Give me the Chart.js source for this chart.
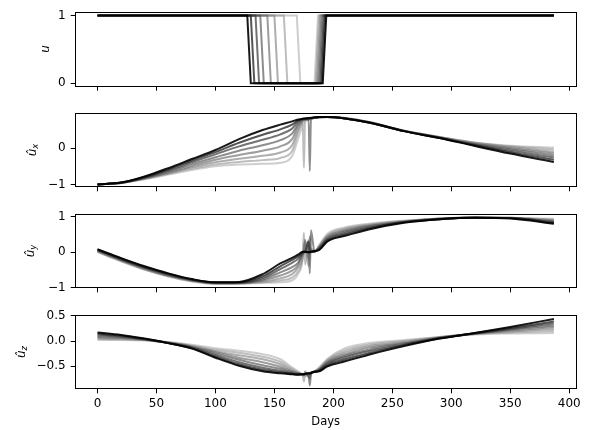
<!DOCTYPE html>
<html>
<head>
<meta charset="utf-8">
<script src="https://cdn.jsdelivr.net/npm/chart.js@4/dist/chart.umd.min.js"></script>
<style>
  body { margin: 0; background: #fff; }
  #figure { position: relative; width: 592px; height: 430px; background: #fff; overflow: hidden; }
  #figure canvas { position: absolute; left: 0; }
  .ylab {
    position: absolute;
    font-family: "DejaVu Sans", sans-serif;
    font-size: 12px;
    font-style: italic;
    line-height: 1;
    white-space: nowrap;
    color: #000;
    transform: translate(-50%, -50%) rotate(-90deg);
  }
  .ylab sub { font-size: 8.5px; vertical-align: -2px; }
</style>
</head>
<body>
<div id="figure">
  <canvas id="chart-u" width="592" height="100" style="top:0px"></canvas>
  <canvas id="chart-ux" width="592" height="100" style="top:101px"></canvas>
  <canvas id="chart-uy" width="592" height="100" style="top:202px"></canvas>
  <canvas id="chart-uz" width="592" height="127" style="top:303px"></canvas>
  <div class="ylab" style="left:45px; top:49px">u</div>
  <div class="ylab" style="left:33px; top:150px">û<sub>x</sub></div>
  <div class="ylab" style="left:31px; top:251px">û<sub>y</sub></div>
  <div class="ylab" style="left:22px; top:352px">û<sub>z</sub></div>
</div>
<script>
// Axe des jours (commun aux 4 graphes)
const days = [0, 20, 40, 60, 80, 100, 120, 140, 155, 165, 170, 174, 175, 176, 179, 180, 181, 184, 188, 195, 210, 230, 260, 290, 320, 350, 387];
const xTicks = [0, 50, 100, 150, 200, 250, 300, 350, 400];

// u : jours de coupure / reprise de chaque courbe (du plus clair au plus foncé)
const uFallStart = [169, 158, 150, 144, 138, 134, 130, 127];
const uFallEnd = [172, 161, 153, 147, 141, 137, 133, 130];
const uRiseStart = [184, 185, 186, 187, 188, 189, 190, 191];
const uRiseEnd = [187, 188, 189, 190, 191, 192, 193, 194];
const uTicks = [0, 1];
const uTickLabels = ["0", "1"];

// û_x
const ux0 = [-1, -0.96, -0.86, -0.73, -0.60, -0.50, -0.45, -0.43, -0.40, -0.22, 0.25, 0.62, 0.70, 0.74, 0.78, 0.79, 0.80, 0.83, 0.85, 0.86, 0.83, 0.72, 0.48, 0.31, 0.16, 0.07, 0.02];
const ux1 = [-1, -0.96, -0.85, -0.71, -0.57, -0.45, -0.38, -0.33, -0.27, -0.08, 0.40, 0.70, -0.54, 0.76, 0.79, 0.80, 0.81, 0.83, 0.85, 0.86, 0.83, 0.72, 0.48, 0.31, 0.15, 0.05, -0.04];
const ux2 = [-1, -0.96, -0.84, -0.69, -0.53, -0.39, -0.29, -0.21, -0.12, 0.08, 0.50, 0.74, 0.77, 0.78, 0.80, 0.81, 0.82, 0.84, 0.85, 0.86, 0.83, 0.72, 0.48, 0.30, 0.14, 0.03, -0.10];
const ux3 = [-1, -0.96, -0.83, -0.67, -0.49, -0.32, -0.19, -0.07, 0.05, 0.25, 0.60, 0.77, 0.78, 0.79, 0.80, 0.81, 0.82, 0.84, 0.85, 0.86, 0.82, 0.72, 0.48, 0.30, 0.12, 0.00, -0.15];
const ux4 = [-1, -0.96, -0.82, -0.64, -0.44, -0.25, -0.07, 0.08, 0.22, 0.40, 0.66, 0.78, 0.79, 0.80, 0.80, -0.63, 0.80, 0.84, 0.85, 0.86, 0.82, 0.71, 0.47, 0.29, 0.11, -0.03, -0.20];
const ux5 = [-1, -0.95, -0.81, -0.61, -0.39, -0.17, 0.05, 0.23, 0.38, 0.54, 0.72, 0.80, 0.80, 0.81, 0.82, 0.82, 0.83, 0.84, 0.86, 0.86, 0.82, 0.71, 0.47, 0.29, 0.09, -0.07, -0.26];
const ux6 = [-1, -0.95, -0.79, -0.58, -0.34, -0.11, 0.15, 0.37, 0.52, 0.65, 0.76, 0.81, 0.81, 0.82, 0.82, 0.83, 0.83, 0.85, 0.86, 0.86, 0.82, 0.71, 0.47, 0.28, 0.08, -0.11, -0.32];
const ux7 = [-1, -0.95, -0.78, -0.55, -0.30, -0.05, 0.25, 0.50, 0.65, 0.74, 0.79, 0.81, 0.82, 0.82, 0.83, 0.83, 0.84, 0.85, 0.86, 0.86, 0.82, 0.71, 0.47, 0.28, 0.06, -0.15, -0.38];
const uxTicks = [-1, 0];
const uxTickLabels = ["\u22121", "0"];

// û_y
const uy0 = [0.00, -0.26, -0.50, -0.69, -0.83, -0.90, -0.89, -0.87, -0.85, -0.80, -0.62, -0.20, 0.25, -0.10, 0.35, 0.10, 0.02, 0.02, 0.20, 0.52, 0.70, 0.80, 0.89, 0.95, 0.98, 0.97, 0.94];
const uy1 = [0.01, -0.25, -0.49, -0.68, -0.82, -0.89, -0.89, -0.85, -0.80, -0.72, -0.55, -0.10, 0.55, -0.35, 0.20, 0.10, 0.05, 0.02, 0.18, 0.48, 0.67, 0.78, 0.88, 0.95, 0.98, 0.97, 0.92];
const uy2 = [0.02, -0.24, -0.48, -0.67, -0.81, -0.88, -0.88, -0.83, -0.74, -0.62, -0.45, -0.15, 0.10, 0.30, -0.40, 0.00, 0.10, 0.02, 0.16, 0.45, 0.64, 0.76, 0.87, 0.94, 0.98, 0.97, 0.90];
const uy3 = [0.03, -0.23, -0.46, -0.66, -0.80, -0.88, -0.87, -0.80, -0.66, -0.52, -0.38, -0.05, 0.00, 0.35, -0.20, 0.45, 0.00, 0.02, 0.14, 0.42, 0.61, 0.74, 0.86, 0.94, 0.98, 0.96, 0.88];
const uy4 = [0.05, -0.21, -0.45, -0.64, -0.79, -0.87, -0.87, -0.77, -0.57, -0.42, -0.30, -0.05, 0.00, 0.02, 0.30, -0.60, 0.62, 0.02, 0.12, 0.39, 0.58, 0.72, 0.85, 0.94, 0.97, 0.96, 0.86];
const uy5 = [0.06, -0.20, -0.43, -0.63, -0.78, -0.86, -0.86, -0.73, -0.48, -0.30, -0.19, -0.02, 0.00, 0.00, 0.30, 0.00, 0.02, 0.02, 0.10, 0.36, 0.54, 0.69, 0.85, 0.93, 0.97, 0.96, 0.84];
const uy6 = [0.07, -0.18, -0.42, -0.61, -0.77, -0.85, -0.85, -0.68, -0.40, -0.22, -0.12, 0.00, 0.01, 0.01, 0.00, 0.00, 0.01, 0.02, 0.08, 0.33, 0.50, 0.67, 0.84, 0.93, 0.97, 0.96, 0.82];
const uy7 = [0.08, -0.17, -0.40, -0.60, -0.76, -0.85, -0.84, -0.62, -0.32, -0.16, -0.07, 0.01, 0.01, 0.01, 0.00, 0.00, 0.01, 0.03, 0.06, 0.30, 0.46, 0.64, 0.83, 0.93, 0.97, 0.95, 0.80];
const uyTicks = [-1, 0, 1];
const uyTickLabels = ["\u22121", "0", "1"];

// û_z
const uz0 = [0.02, 0.02, 0.01, -0.02, -0.07, -0.14, -0.19, -0.26, -0.36, -0.52, -0.60, -0.68, -0.70, -0.70, -0.66, -0.64, -0.62, -0.60, -0.52, -0.35, -0.14, -0.04, 0.02, 0.08, 0.13, 0.15, 0.16];
const uz1 = [0.04, 0.03, 0.02, -0.03, -0.09, -0.17, -0.23, -0.31, -0.41, -0.55, -0.62, -0.68, -0.80, -0.68, -0.65, -0.63, -0.62, -0.60, -0.54, -0.37, -0.18, -0.07, 0.00, 0.08, 0.14, 0.17, 0.20];
const uz2 = [0.06, 0.05, 0.02, -0.03, -0.10, -0.20, -0.28, -0.36, -0.46, -0.58, -0.63, -0.67, -0.68, -0.60, -0.72, -0.66, -0.63, -0.61, -0.55, -0.39, -0.22, -0.10, -0.02, 0.07, 0.14, 0.19, 0.24];
const uz3 = [0.08, 0.06, 0.03, -0.03, -0.11, -0.22, -0.33, -0.42, -0.51, -0.60, -0.64, -0.66, -0.67, -0.65, -0.70, -0.75, -0.64, -0.61, -0.56, -0.41, -0.26, -0.13, -0.04, 0.07, 0.15, 0.21, 0.28];
const uz4 = [0.10, 0.08, 0.03, -0.04, -0.12, -0.25, -0.37, -0.48, -0.55, -0.62, -0.65, -0.66, -0.66, -0.66, -0.68, -0.88, -0.66, -0.61, -0.57, -0.43, -0.29, -0.17, -0.05, 0.06, 0.15, 0.23, 0.31];
const uz5 = [0.13, 0.09, 0.04, -0.04, -0.13, -0.28, -0.42, -0.53, -0.59, -0.64, -0.66, -0.66, -0.66, -0.65, -0.65, -0.66, -0.64, -0.61, -0.58, -0.45, -0.32, -0.20, -0.07, 0.06, 0.15, 0.24, 0.35];
const uz6 = [0.15, 0.11, 0.04, -0.04, -0.14, -0.31, -0.46, -0.57, -0.62, -0.65, -0.66, -0.66, -0.66, -0.65, -0.64, -0.64, -0.63, -0.61, -0.59, -0.48, -0.36, -0.24, -0.08, 0.05, 0.16, 0.26, 0.39];
const uz7 = [0.17, 0.12, 0.05, -0.04, -0.15, -0.33, -0.49, -0.60, -0.64, -0.66, -0.67, -0.66, -0.66, -0.65, -0.64, -0.64, -0.63, -0.61, -0.60, -0.50, -0.40, -0.27, -0.10, 0.05, 0.16, 0.28, 0.44];
const uzTicks = [-0.5, 0, 0.5];
const uzTickLabels = ["\u22120.5", "0.0", "0.5"];

// Couleurs : du gris clair au noir
const shades = [
  "rgba(180,180,180,0.65)",
  "rgba(155,155,155,0.65)",
  "rgba(130,130,130,0.65)",
  "rgba(105,105,105,0.65)",
  "rgba(80,80,80,0.65)",
  "rgba(55,55,55,0.7)",
  "rgba(28,28,28,0.75)",
  "rgba(0,0,0,0.9)",
];

const FONT = { family: "DejaVu Sans", size: 12 };

// Cadre noir autour de la zone de tracé
const framePlugin = {
  id: "frame",
  afterDatasetsDraw(chart) {
    const { ctx, chartArea: a } = chart;
    const l = Math.round(a.left) + 0.5, t = Math.round(a.top) + 0.5;
    const r = Math.round(a.right) - 0.5, b = Math.round(a.bottom) - 0.5;
    ctx.save();
    ctx.strokeStyle = "#000";
    ctx.lineWidth = 1;
    ctx.strokeRect(l, t, r - l, b - t);
    ctx.restore();
  },
};

function toDatasets(curves, monotone) {
  // le premier jeu est dessiné en dernier : on met le noir en tête
  return curves
    .map((pts, i) => ({
      data: pts,
      borderColor: shades[i],
      borderWidth: 2,
      pointRadius: 0,
      fill: false,
      tension: 0,
      cubicInterpolationMode: monotone ? "monotone" : "default",
    }))
    .reverse();
}

function onDays(vals) {
  return days.map((d, j) => ({ x: d, y: vals[j] }));
}

function createChart(id, datasets, yMin, yMax, yTicks, yLabels, padTop, xHeight, bottom) {
  const ctx = document.getElementById(id).getContext("2d");
  new Chart(ctx, {
    type: "line",
    data: { datasets: datasets },
    options: {
      responsive: false,
      animation: false,
      devicePixelRatio: 1,
      layout: { padding: { top: padTop, right: 15.3, left: 0, bottom: 0 } },
      plugins: { legend: { display: false }, tooltip: { enabled: false } },
      scales: {
        x: {
          type: "linear",
          min: -19.35,
          max: 406.35,
          afterBuildTicks: (s) => { s.ticks = xTicks.map((v) => ({ value: v })); },
          afterFit: (s) => { s.height = xHeight; },
          border: { display: false },
          grid: { drawOnChartArea: false, drawTicks: true, tickLength: 4, tickColor: "#000", tickWidth: 1 },
          ticks: {
            autoSkip: false,
            maxRotation: 0,
            padding: 3,
            color: "#000",
            font: FONT,
            callback: (v) => (bottom ? String(v) : ""),
          },
          title: {
            display: bottom,
            text: "Days",
            color: "#000",
            font: { family: "DejaVu Sans", size: 11.5 },
            padding: { top: 0, bottom: 1 },
          },
        },
        y: {
          min: yMin,
          max: yMax,
          afterBuildTicks: (s) => { s.ticks = yTicks.map((v) => ({ value: v })); },
          afterFit: (s) => { s.width = 74.7; },
          border: { display: false },
          grid: { drawOnChartArea: false, drawTicks: true, tickLength: 4, tickColor: "#000", tickWidth: 1 },
          ticks: {
            padding: 5,
            color: "#000",
            font: FONT,
            callback: (v, i) => yLabels[i],
          },
        },
      },
    },
    plugins: [framePlugin],
  });
}

// Graphe u (créneaux)
const uCurves = uFallStart.map((fs, i) => [
  { x: days[0], y: 1 },
  { x: fs, y: 1 },
  { x: uFallEnd[i], y: 0 },
  { x: uRiseStart[i], y: 0 },
  { x: uRiseEnd[i], y: 1 },
  { x: days[days.length - 1], y: 1 },
]);
createChart("chart-u", toDatasets(uCurves, false), -0.05, 1.05, uTicks, uTickLabels, 11.7, 13.3, false);

createChart("chart-ux", toDatasets([ux0, ux1, ux2, ux3, ux4, ux5, ux6, ux7].map(onDays), true),
  -1.08, 0.965, uxTicks, uxTickLabels, 11.3, 13.7, false);

createChart("chart-uy", toDatasets([uy0, uy1, uy2, uy3, uy4, uy5, uy6, uy7].map(onDays), true),
  -1.02, 1.07, uyTicks, uyTickLabels, 11.3, 13.7, false);

createChart("chart-uz", toDatasets([uz0, uz1, uz2, uz3, uz4, uz5, uz6, uz7].map(onDays), true),
  -0.957, 0.514, uzTicks, uzTickLabels, 11.3, 40.7, true);
</script>
</body>
</html>
